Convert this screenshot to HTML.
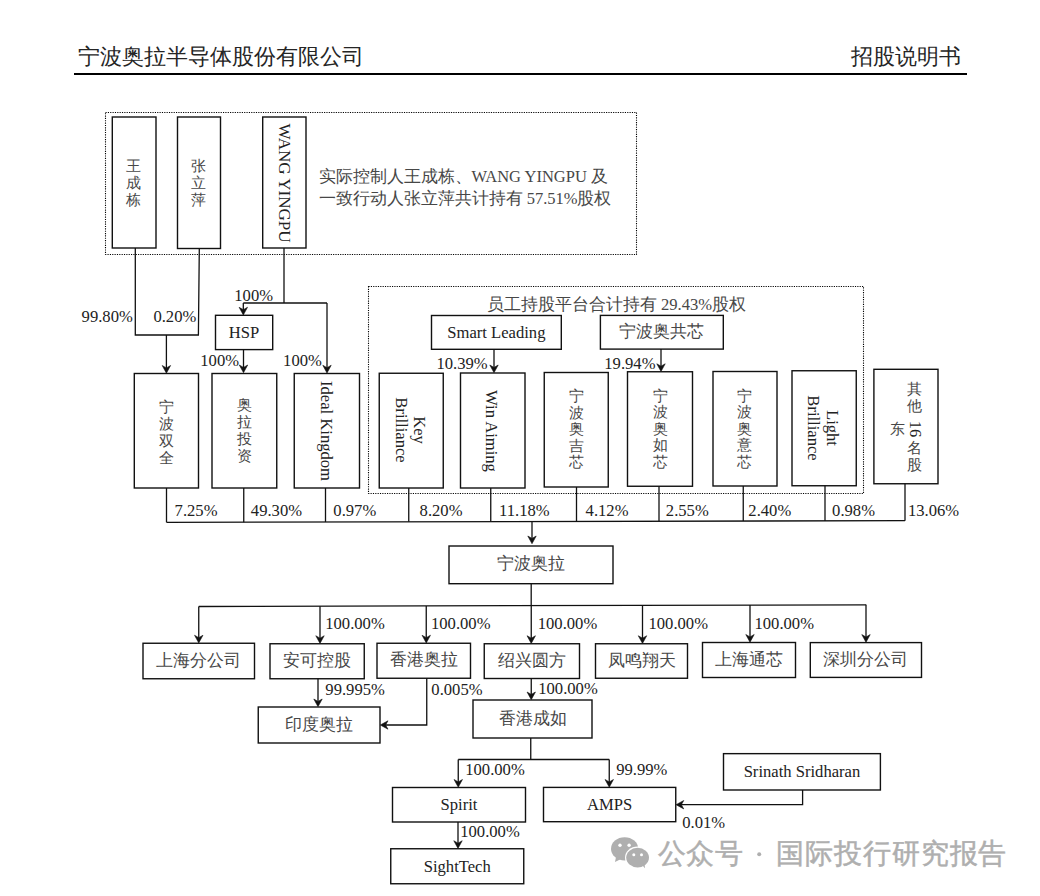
<!DOCTYPE html>
<html><head><meta charset="utf-8"><style>
html,body{margin:0;padding:0;background:#fff;width:1040px;height:896px;overflow:hidden}
body{position:relative;font-family:"Liberation Serif",serif}
svg{position:absolute;left:0;top:0;font-family:"Liberation Serif",serif}
.v{position:absolute;width:30px;text-align:center;white-space:nowrap}
.r{position:absolute;width:300px;height:20px;line-height:20px;text-align:center;white-space:nowrap;transform:rotate(90deg);transform-origin:150px 10px;color:#111}
</style></head><body>
<svg width="1040" height="896" viewBox="0 0 1040 896">
<text x="78" y="64" font-size="22" text-anchor="start" fill="#252525" >宁波奥拉半导体股份有限公司</text>
<text x="961" y="64" font-size="22" text-anchor="end" fill="#252525" >招股说明书</text>
<rect x="74" y="73" width="893" height="2" fill="#000"/>
<rect x="105.5" y="112.5" width="531.0" height="142.0" fill="none" stroke="#000" stroke-width="1.1" stroke-dasharray="1.15 1.2"/>
<rect x="112.3" y="117" width="43.7" height="131" fill="#fff" stroke="#111" stroke-width="1.4"/>
<rect x="177.5" y="117" width="43.0" height="131.5" fill="#fff" stroke="#111" stroke-width="1.4"/>
<rect x="262.7" y="117" width="43.3" height="131" fill="#fff" stroke="#111" stroke-width="1.4"/>
<text x="318.5" y="182" font-size="16.5" text-anchor="start" fill="#474747" >实际控制人王成栋、WANG YINGPU 及</text>
<text x="318.5" y="204" font-size="16.5" text-anchor="start" fill="#474747" >一致行动人张立萍共计持有 57.51%股权</text>
<polyline points="135.3,248 135.3,335 198.4,335 199.3,248.5" fill="none" stroke="#111" stroke-width="1.3"/>
<polyline points="166.4,335 166.4,370.5" fill="none" stroke="#111" stroke-width="1.3"/>
<path d="M166.4,373.2 L162.2,365.5 L166.4,367.9 L170.6,365.5 Z" fill="#111" stroke="#111" stroke-width="0.6" stroke-linejoin="round"/>
<text x="81.6" y="322" font-size="16.6" text-anchor="start" fill="#222" >99.80%</text>
<text x="153.4" y="322" font-size="16.6" text-anchor="start" fill="#222" >0.20%</text>
<polyline points="284,248 284,303" fill="none" stroke="#111" stroke-width="1.3"/>
<polyline points="243.3,303 327,303" fill="none" stroke="#111" stroke-width="1.3"/>
<polyline points="243.3,303 243.3,312.3" fill="none" stroke="#111" stroke-width="1.3"/>
<path d="M243.3,315.0 L239.1,307.3 L243.3,309.7 L247.5,307.3 Z" fill="#111" stroke="#111" stroke-width="0.6" stroke-linejoin="round"/>
<polyline points="327,303 327,370.3" fill="none" stroke="#111" stroke-width="1.3"/>
<path d="M327,373.0 L322.8,365.3 L327,367.7 L331.2,365.3 Z" fill="#111" stroke="#111" stroke-width="0.6" stroke-linejoin="round"/>
<text x="234.3" y="301.3" font-size="16.6" text-anchor="start" fill="#222" >100%</text>
<rect x="215.5" y="315.3" width="57.2" height="34.3" fill="#fff" stroke="#111" stroke-width="1.4"/>
<text x="244.1" y="332.45000000000005" font-size="16.6" text-anchor="middle" dominant-baseline="central" fill="#222">HSP</text>
<polyline points="243.5,349.6 243.5,370" fill="none" stroke="#111" stroke-width="1.3"/>
<path d="M243.5,372.7 L239.3,365 L243.5,367.4 L247.7,365 Z" fill="#111" stroke="#111" stroke-width="0.6" stroke-linejoin="round"/>
<text x="200.3" y="365.5" font-size="16.6" text-anchor="start" fill="#222" >100%</text>
<text x="283.1" y="365.5" font-size="16.6" text-anchor="start" fill="#222" >100%</text>
<rect x="368.5" y="286.5" width="495.0" height="207.0" fill="none" stroke="#000" stroke-width="1.1" stroke-dasharray="1.15 1.2"/>
<text x="616.5" y="310" font-size="16.6" text-anchor="middle" fill="#474747" >员工持股平台合计持有 29.43%股权</text>
<rect x="431.5" y="315.5" width="129.8" height="33.8" fill="#fff" stroke="#111" stroke-width="1.4"/>
<text x="496.4" y="332.4" font-size="16.6" text-anchor="middle" dominant-baseline="central" fill="#222">Smart Leading</text>
<rect x="600.4" y="315.4" width="122.9" height="33.7" fill="#fff" stroke="#111" stroke-width="1.4"/>
<text x="661.8499999999999" y="331.25" font-size="16.6" text-anchor="middle" dominant-baseline="central" fill="#474747">宁波奥共芯</text>
<polyline points="494,349.3 494,370" fill="none" stroke="#111" stroke-width="1.3"/>
<path d="M494,372.7 L489.8,365 L494,367.4 L498.2,365 Z" fill="#111" stroke="#111" stroke-width="0.6" stroke-linejoin="round"/>
<text x="436.5" y="369" font-size="16.6" text-anchor="start" fill="#222" >10.39%</text>
<polyline points="661,349.1 661,368.8" fill="none" stroke="#111" stroke-width="1.3"/>
<path d="M661,371.5 L656.8,363.8 L661,366.2 L665.2,363.8 Z" fill="#111" stroke="#111" stroke-width="0.6" stroke-linejoin="round"/>
<text x="604.3" y="369" font-size="16.6" text-anchor="start" fill="#222" >19.94%</text>
<rect x="134.3" y="373.5" width="64.2" height="114.5" fill="#fff" stroke="#111" stroke-width="1.4"/>
<rect x="212" y="373.5" width="64.75" height="114.5" fill="#fff" stroke="#111" stroke-width="1.4"/>
<rect x="294.25" y="373.5" width="65.25" height="114.5" fill="#fff" stroke="#111" stroke-width="1.4"/>
<rect x="379.25" y="373.25" width="64.0" height="114.75" fill="#fff" stroke="#111" stroke-width="1.4"/>
<rect x="460.5" y="373" width="64.5" height="115" fill="#fff" stroke="#111" stroke-width="1.4"/>
<rect x="544.25" y="372.5" width="64.0" height="114.5" fill="#fff" stroke="#111" stroke-width="1.4"/>
<rect x="627.5" y="371.75" width="65.0" height="114.5" fill="#fff" stroke="#111" stroke-width="1.4"/>
<rect x="713" y="371.5" width="64" height="114.5" fill="#fff" stroke="#111" stroke-width="1.4"/>
<rect x="792" y="370.75" width="64.25" height="115.0" fill="#fff" stroke="#111" stroke-width="1.4"/>
<rect x="873.9" y="369.3" width="64.1" height="114.45" fill="#fff" stroke="#111" stroke-width="1.4"/>
<polyline points="166.5,488 166.5,522.3" fill="none" stroke="#111" stroke-width="1.3"/>
<polyline points="243.75,488 243.75,522.1329729729729" fill="none" stroke="#111" stroke-width="1.3"/>
<polyline points="325.5,488 325.5,521.9562162162161" fill="none" stroke="#111" stroke-width="1.3"/>
<polyline points="408.75,488 408.75,521.7762162162162" fill="none" stroke="#111" stroke-width="1.3"/>
<polyline points="490.75,488 490.75,521.5989189189189" fill="none" stroke="#111" stroke-width="1.3"/>
<polyline points="576.5,487 576.5,521.4135135135135" fill="none" stroke="#111" stroke-width="1.3"/>
<polyline points="659,486.25 659,521.2351351351351" fill="none" stroke="#111" stroke-width="1.3"/>
<polyline points="743.25,486 743.25,521.052972972973" fill="none" stroke="#111" stroke-width="1.3"/>
<polyline points="825,485.75 825,520.8762162162162" fill="none" stroke="#111" stroke-width="1.3"/>
<polyline points="905,483.75 905,520.7032432432432" fill="none" stroke="#111" stroke-width="1.3"/>
<polyline points="166.5,522.3 905,520.7" fill="none" stroke="#111" stroke-width="1.3"/>
<text x="174.6" y="516" font-size="16.6" text-anchor="start" fill="#222" >7.25%</text>
<text x="250.85" y="516" font-size="16.6" text-anchor="start" fill="#222" >49.30%</text>
<text x="333.35" y="516" font-size="16.6" text-anchor="start" fill="#222" >0.97%</text>
<text x="419.6" y="516" font-size="16.6" text-anchor="start" fill="#222" >8.20%</text>
<text x="499.0" y="516" font-size="16.6" text-anchor="start" fill="#222" >11.18%</text>
<text x="585.6" y="516" font-size="16.6" text-anchor="start" fill="#222" >4.12%</text>
<text x="665.85" y="516" font-size="16.6" text-anchor="start" fill="#222" >2.55%</text>
<text x="748.35" y="516" font-size="16.6" text-anchor="start" fill="#222" >2.40%</text>
<text x="832.1" y="516" font-size="16.6" text-anchor="start" fill="#222" >0.98%</text>
<text x="908.0" y="516" font-size="16.6" text-anchor="start" fill="#222" >13.06%</text>
<polyline points="532,521 532,541" fill="none" stroke="#111" stroke-width="1.3"/>
<path d="M532,543.7 L527.8,536 L532,538.4 L536.2,536 Z" fill="#111" stroke="#111" stroke-width="0.6" stroke-linejoin="round"/>
<rect x="449" y="546" width="164" height="37.7" fill="#fff" stroke="#111" stroke-width="1.4"/>
<text x="531.0" y="563.85" font-size="16.6" text-anchor="middle" dominant-baseline="central" fill="#474747">宁波奥拉</text>
<polyline points="531.2,583.7 531.2,605.5" fill="none" stroke="#111" stroke-width="1.3"/>
<polyline points="198.75,606.5 866.2,604.8" fill="none" stroke="#111" stroke-width="1.3"/>
<polyline points="198.75,606.5 198.75,640.25" fill="none" stroke="#111" stroke-width="1.3"/>
<path d="M198.75,642.95 L194.55,635.25 L198.75,637.65 L202.95,635.25 Z" fill="#111" stroke="#111" stroke-width="0.6" stroke-linejoin="round"/>
<polyline points="320,606.1909670164918 320,640.75" fill="none" stroke="#111" stroke-width="1.3"/>
<path d="M320,643.45 L315.8,635.75 L320,638.15 L324.2,635.75 Z" fill="#111" stroke="#111" stroke-width="0.6" stroke-linejoin="round"/>
<polyline points="426.25,605.9201649175412 426.25,640.25" fill="none" stroke="#111" stroke-width="1.3"/>
<path d="M426.25,642.95 L422.05,635.25 L426.25,637.65 L430.45,635.25 Z" fill="#111" stroke="#111" stroke-width="0.6" stroke-linejoin="round"/>
<polyline points="531.25,605.6525487256372 531.25,640.75" fill="none" stroke="#111" stroke-width="1.3"/>
<path d="M531.25,643.45 L527.05,635.75 L531.25,638.15 L535.45,635.75 Z" fill="#111" stroke="#111" stroke-width="0.6" stroke-linejoin="round"/>
<polyline points="642.5,605.3690029985007 642.5,640.75" fill="none" stroke="#111" stroke-width="1.3"/>
<path d="M642.5,643.45 L638.3,635.75 L642.5,638.15 L646.7,635.75 Z" fill="#111" stroke="#111" stroke-width="0.6" stroke-linejoin="round"/>
<polyline points="750,605.0950149925037 750,639.5" fill="none" stroke="#111" stroke-width="1.3"/>
<path d="M750,642.2 L745.8,634.5 L750,636.9 L754.2,634.5 Z" fill="#111" stroke="#111" stroke-width="0.6" stroke-linejoin="round"/>
<polyline points="866,604.7993628185907 866,639.6" fill="none" stroke="#111" stroke-width="1.3"/>
<path d="M866,642.3000000000001 L861.8,634.6 L866,637.0 L870.2,634.6 Z" fill="#111" stroke="#111" stroke-width="0.6" stroke-linejoin="round"/>
<rect x="143" y="643.25" width="111.5" height="35.5" fill="#fff" stroke="#111" stroke-width="1.4"/>
<text x="198.75" y="660.0" font-size="16.6" text-anchor="middle" dominant-baseline="central" fill="#474747">上海分公司</text>
<rect x="270" y="643.75" width="94.25" height="35.0" fill="#fff" stroke="#111" stroke-width="1.4"/>
<text x="317.125" y="660.25" font-size="16.6" text-anchor="middle" dominant-baseline="central" fill="#474747">安可控股</text>
<rect x="377" y="643.25" width="93.5" height="35.0" fill="#fff" stroke="#111" stroke-width="1.4"/>
<text x="423.75" y="659.75" font-size="16.6" text-anchor="middle" dominant-baseline="central" fill="#474747">香港奥拉</text>
<rect x="484.25" y="643.75" width="95.25" height="34.75" fill="#fff" stroke="#111" stroke-width="1.4"/>
<text x="531.875" y="660.125" font-size="16.6" text-anchor="middle" dominant-baseline="central" fill="#474747">绍兴圆方</text>
<rect x="595.5" y="643.75" width="92.0" height="34.5" fill="#fff" stroke="#111" stroke-width="1.4"/>
<text x="641.5" y="660.0" font-size="16.6" text-anchor="middle" dominant-baseline="central" fill="#474747">凤鸣翔天</text>
<rect x="702.5" y="642.5" width="93.0" height="35.0" fill="#fff" stroke="#111" stroke-width="1.4"/>
<text x="749.0" y="659.0" font-size="16.6" text-anchor="middle" dominant-baseline="central" fill="#474747">上海通芯</text>
<rect x="810.3" y="642.6" width="111.2" height="34.8" fill="#fff" stroke="#111" stroke-width="1.4"/>
<text x="865.9" y="659.0" font-size="16.6" text-anchor="middle" dominant-baseline="central" fill="#474747">深圳分公司</text>
<text x="325.25" y="629" font-size="16.6" text-anchor="start" fill="#222" >100.00%</text>
<text x="431.0" y="629" font-size="16.6" text-anchor="start" fill="#222" >100.00%</text>
<text x="537.75" y="629" font-size="16.6" text-anchor="start" fill="#222" >100.00%</text>
<text x="648.5" y="629" font-size="16.6" text-anchor="start" fill="#222" >100.00%</text>
<text x="754.5" y="629" font-size="16.6" text-anchor="start" fill="#222" >100.00%</text>
<polyline points="318,678.75 318,704" fill="none" stroke="#111" stroke-width="1.3"/>
<path d="M318,706.7 L313.8,699 L318,701.4 L322.2,699 Z" fill="#111" stroke="#111" stroke-width="0.6" stroke-linejoin="round"/>
<text x="325.35" y="694.5" font-size="16.6" text-anchor="start" fill="#222" >99.995%</text>
<polyline points="426.75,678.25 426.75,725 383,725" fill="none" stroke="#111" stroke-width="1.3"/>
<path d="M380.3,725 L388,720.8 L385.6,725 L388,729.2 Z" fill="#111" stroke="#111" stroke-width="0.6" stroke-linejoin="round"/>
<text x="431.35" y="694.5" font-size="16.6" text-anchor="start" fill="#222" >0.005%</text>
<rect x="258.25" y="707" width="121.75" height="36" fill="#fff" stroke="#111" stroke-width="1.4"/>
<text x="319.125" y="724.0" font-size="16.6" text-anchor="middle" dominant-baseline="central" fill="#474747">印度奥拉</text>
<polyline points="531.25,678.5 531.25,697" fill="none" stroke="#111" stroke-width="1.3"/>
<path d="M531.25,699.7 L527.05,692 L531.25,694.4 L535.45,692 Z" fill="#111" stroke="#111" stroke-width="0.6" stroke-linejoin="round"/>
<text x="538.25" y="694" font-size="16.6" text-anchor="start" fill="#222" >100.00%</text>
<rect x="473" y="700" width="119" height="38" fill="#fff" stroke="#111" stroke-width="1.4"/>
<text x="532.5" y="718.0" font-size="16.6" text-anchor="middle" dominant-baseline="central" fill="#474747">香港成如</text>
<polyline points="530.75,738 530.75,759.5" fill="none" stroke="#111" stroke-width="1.3"/>
<polyline points="458.25,759.5 609.25,759.5" fill="none" stroke="#111" stroke-width="1.3"/>
<polyline points="458.25,759.5 458.25,784.5" fill="none" stroke="#111" stroke-width="1.3"/>
<path d="M458.25,787.2 L454.05,779.5 L458.25,781.9 L462.45,779.5 Z" fill="#111" stroke="#111" stroke-width="0.6" stroke-linejoin="round"/>
<polyline points="609.25,759.5 609.25,784.5" fill="none" stroke="#111" stroke-width="1.3"/>
<path d="M609.25,787.2 L605.05,779.5 L609.25,781.9 L613.45,779.5 Z" fill="#111" stroke="#111" stroke-width="0.6" stroke-linejoin="round"/>
<text x="465.25" y="775" font-size="16.6" text-anchor="start" fill="#222" >100.00%</text>
<text x="616.2" y="774.5" font-size="16.6" text-anchor="start" fill="#222" >99.99%</text>
<rect x="392.5" y="787.5" width="133.0" height="34.5" fill="#fff" stroke="#111" stroke-width="1.4"/>
<text x="459.0" y="804.75" font-size="16.6" text-anchor="middle" dominant-baseline="central" fill="#222">Spirit</text>
<rect x="543.5" y="787.4" width="132.25" height="34.3" fill="#fff" stroke="#111" stroke-width="1.4"/>
<text x="609.625" y="804.55" font-size="16.6" text-anchor="middle" dominant-baseline="central" fill="#222">AMPS</text>
<polyline points="458,822 458,845.75" fill="none" stroke="#111" stroke-width="1.3"/>
<path d="M458,848.45 L453.8,840.75 L458,843.15 L462.2,840.75 Z" fill="#111" stroke="#111" stroke-width="0.6" stroke-linejoin="round"/>
<text x="460.25" y="837" font-size="16.6" text-anchor="start" fill="#222" >100.00%</text>
<rect x="390.75" y="848.75" width="133.0" height="35.0" fill="#fff" stroke="#111" stroke-width="1.4"/>
<text x="457.25" y="866.25" font-size="16.6" text-anchor="middle" dominant-baseline="central" fill="#222">SightTech</text>
<rect x="723.5" y="753.65" width="156.9" height="36.35" fill="#fff" stroke="#111" stroke-width="1.4"/>
<text x="801.95" y="771.825" font-size="16.6" text-anchor="middle" dominant-baseline="central" fill="#222">Srinath Sridharan</text>
<polyline points="802.6,790 802.6,804.7 679,804.7" fill="none" stroke="#111" stroke-width="1.3"/>
<path d="M676.05,804.7 L683.75,800.5 L681.35,804.7 L683.75,808.9 Z" fill="#111" stroke="#111" stroke-width="0.6" stroke-linejoin="round"/>
<text x="682.2" y="828" font-size="16.6" text-anchor="start" fill="#222" >0.01%</text>
<g fill="#afafaf">
<ellipse cx="624.6" cy="848.8" rx="13.6" ry="11.6"/>
<path d="M616,857 L615,862 L622,858.5 Z"/>
<ellipse cx="637.6" cy="857.6" rx="12.6" ry="11" fill="#fff"/>
<ellipse cx="637.6" cy="857.6" rx="11.4" ry="9.8"/>
<path d="M642,865 L645,868.2 L644.5,863 Z"/>
<circle cx="620" cy="845.2" r="1.7" fill="#fff"/>
<circle cx="629.1" cy="845.2" r="1.7" fill="#fff"/>
<circle cx="633.8" cy="854.8" r="1.5" fill="#fff"/>
<circle cx="641.5" cy="854.8" r="1.5" fill="#fff"/>
</g>
<text x="657.5" y="862.8" font-size="27.6" letter-spacing="0.9" fill="#afafaf" stroke="#afafaf" stroke-width="0.5" style="font-family:'Liberation Sans',sans-serif">公众号</text>
<circle cx="759.2" cy="854.2" r="2" fill="#afafaf"/>
<text x="776.2" y="862.8" font-size="27.6" letter-spacing="0.9" fill="#afafaf" stroke="#afafaf" stroke-width="0.5" style="font-family:'Liberation Sans',sans-serif">国际投行研究报告</text>
</svg>
<div class="v" style="left:118px;top:157px;font-size:15.3px;line-height:17px;color:#474747">王<br>成<br>栋</div>
<div class="v" style="left:183px;top:157px;font-size:15.3px;line-height:17px;color:#474747">张<br>立<br>萍</div>
<div class="r" style="left:134.3px;top:172.5px;font-size:17px;color:#222">WANG YINGPU</div>
<div class="v" style="left:151.2px;top:398px;font-size:15.3px;line-height:17px;color:#474747">宁<br>波<br>双<br>全</div>
<div class="v" style="left:229px;top:395.5px;font-size:15.3px;line-height:17px;color:#474747">奥<br>拉<br>投<br>资</div>
<div class="r" style="left:176.2px;top:421px;font-size:16.6px;color:#222">Ideal Kingdom</div>
<div class="r" style="left:268.8px;top:420.3px;font-size:16.6px;color:#222">Key</div>
<div class="r" style="left:250.8px;top:420px;font-size:16.6px;color:#222">Brilliance</div>
<div class="r" style="left:340.7px;top:421.1px;font-size:16.6px;color:#222">Win Aiming</div>
<div class="v" style="left:561.3px;top:388px;font-size:15.3px;line-height:16.6px;color:#474747">宁<br>波<br>奥<br>吉<br>芯</div>
<div class="v" style="left:645px;top:387.7px;font-size:15.3px;line-height:16.6px;color:#474747">宁<br>波<br>奥<br>如<br>芯</div>
<div class="v" style="left:729.6px;top:387.7px;font-size:15.3px;line-height:16.6px;color:#474747">宁<br>波<br>奥<br>意<br>芯</div>
<div class="r" style="left:682.3px;top:418.4px;font-size:16.6px;color:#222">Light</div>
<div class="r" style="left:663px;top:418.4px;font-size:16.6px;color:#222">Brilliance</div>
<div class="v" style="left:899.5px;top:380px;font-size:15.3px;line-height:17px;color:#474747">其<br>他</div>
<div class="r" style="left:764.5px;top:419px;font-size:16.6px;color:#222">16</div>
<div class="v" style="left:899.5px;top:438.5px;font-size:15.3px;line-height:17px;color:#474747">名<br>股</div>
<div class="v" style="left:882.5px;top:420.5px;font-size:15.3px;line-height:16.6px;color:#474747">东</div>
</body></html>
